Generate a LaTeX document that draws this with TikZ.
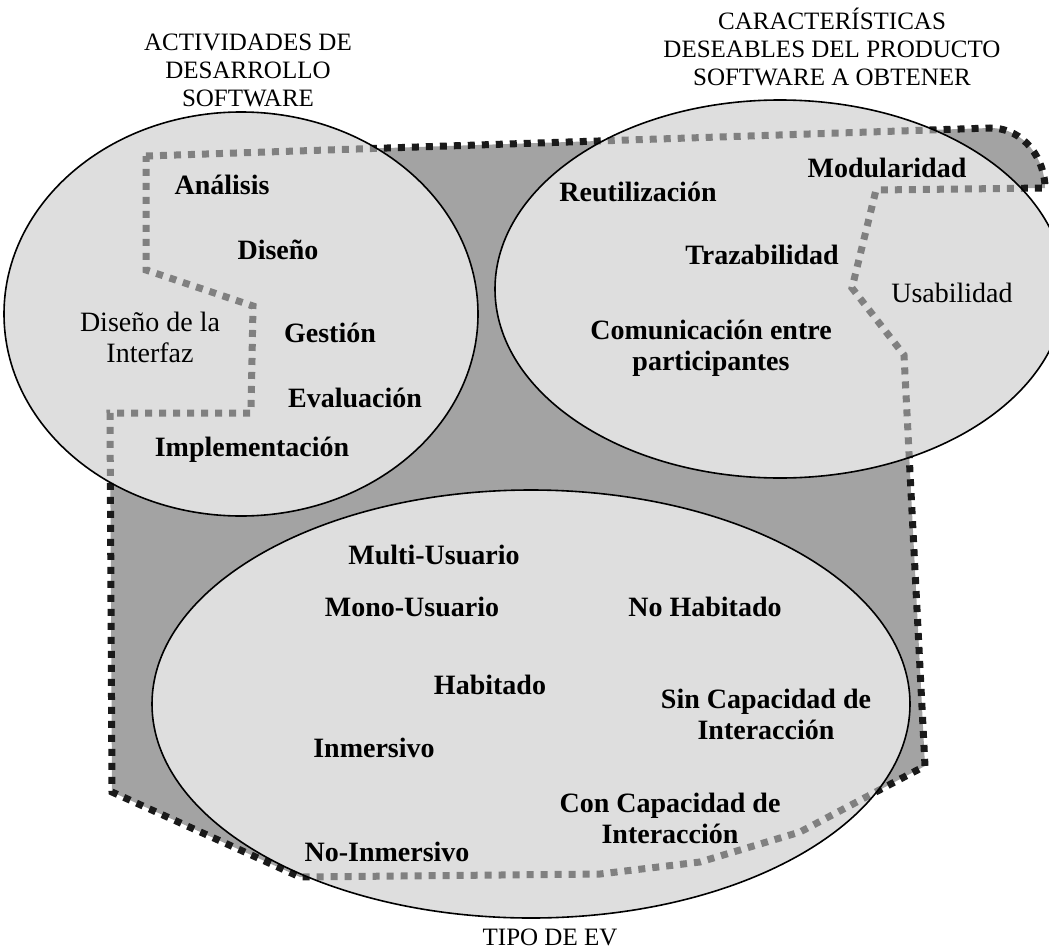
\documentclass[tikz,border=0pt]{standalone}
\usepackage{fontspec}
\setmainfont{Liberation Serif}
\definecolor{bandgray}{HTML}{A3A3A3}
\definecolor{setfill}{HTML}{DEDEDE}
\definecolor{darksq}{HTML}{1A1A1A}
\definecolor{lightsq}{HTML}{808080}
% outline of the shaded band that links the three sets
\newcommand{\bandpath}[1]{%
  \path[#1] (146,156) -- (990,128)
    .. controls (1025,128) and (1045,160) .. (1045,188)
    -- (876,190) -- (852,288) -- (904,355) -- (925,766) -- (887,786)
    -- (800,832) -- (700,862) -- (600,874) -- (300,877) -- (112,792)
    -- (110,413) -- (251,413) -- (253,306) -- (146,270) -- cycle;}
\begin{document}
\begin{tikzpicture}[x=1pt,y=-1pt,
  item/.style={font=\fontsize{28}{31}\selectfont\bfseries, align=center, inner sep=0pt},
  itemr/.style={font=\fontsize{28}{31}\selectfont, align=center, inner sep=0pt},
  ttl/.style={font=\fontsize{25}{28}\selectfont, align=center, inner sep=0pt},
  squares/.style={line width=7pt, dash pattern=on 7pt off 7pt, line cap=butt},
  rim/.style={draw=black, line width=1.6pt}]
\useasboundingbox (0,0) rectangle (1049,950);
\clip (0,0) rectangle (1049,950);
\fill[white] (0,0) rectangle (1049,950);

% shaded band and its heavy dotted border
\bandpath{fill=bandgray}
\bandpath{draw=darksq, squares}

% the three sets
\fill[setfill] (241,314) ellipse [x radius=237pt, y radius=202pt];
\fill[setfill] (780,289) ellipse [x radius=285pt, y radius=189pt];
\fill[setfill] (531,704) ellipse [x radius=379pt, y radius=214pt];

% border of the band seen through each set
\begin{scope}
  \clip (241,314) ellipse [x radius=237pt, y radius=202pt];
  \bandpath{draw=lightsq, squares}
\end{scope}
\begin{scope}
  \clip (780,289) ellipse [x radius=285pt, y radius=189pt];
  \bandpath{draw=lightsq, squares}
\end{scope}
\begin{scope}
  \clip (531,704) ellipse [x radius=379pt, y radius=214pt];
  \bandpath{draw=lightsq, squares}
\end{scope}

\draw[rim] (241,314) ellipse [x radius=237pt, y radius=202pt];
\draw[rim] (780,289) ellipse [x radius=285pt, y radius=189pt];
\draw[rim] (531,704) ellipse [x radius=379pt, y radius=214pt];

% set titles
\node[ttl] (tact) at (248,70) {ACTIVIDADES DE\\DESARROLLO\\SOFTWARE};
\node[ttl] (tcar) at (832,47) {CARACTERÍSTICAS\\DESEABLES DEL PRODUCTO\\SOFTWARE A OBTENER};
\node[ttl] (ttipo) at (550,937) {TIPO DE EV};

% development activities
\node[item] (analisis) at (222,185) {Análisis};
\node[item] (diseno) at (278,250) {Diseño};
\node[itemr] (interfaz) at (150,337) {Diseño de la\\Interfaz};
\node[item] (gestion) at (330,333) {Gestión};
\node[item] (evaluacion) at (355,398) {Evaluación};
\node[item] (implem) at (252,450) {Implementación};

% desirable characteristics
\node[item] (modular) at (887,168) {Modularidad};
\node[item] (reutil) at (638,192) {Reutilización};
\node[item] (traza) at (762,255) {Trazabilidad};
\node[item] (comunic) at (711,348) {Comunicación entre\\participantes};
\node[itemr] (usab) at (952,293) {Usabilidad};

% kinds of virtual environment
\node[item] (multi) at (434,555) {Multi-Usuario};
\node[item] (mono) at (412,607) {Mono-Usuario};
\node[item] (nohab) at (705,607) {No Habitado};
\node[item] (hab) at (490,685) {Habitado};
\node[item] (sincap) at (766,714) {Sin Capacidad de\\Interacción};
\node[item] (inmers) at (374,748) {Inmersivo};
\node[item] (concap) at (670,818) {Con Capacidad de\\Interacción};
\node[item] (noinm) at (387,852) {No-Inmersivo};
\end{tikzpicture}
\end{document}
